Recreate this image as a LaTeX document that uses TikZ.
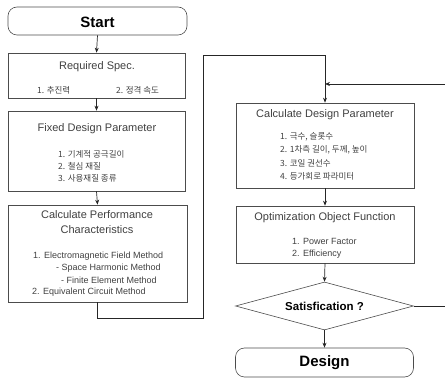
\documentclass[tikz,border=0pt]{standalone}
\usepackage{fontspec}
\setmainfont{Liberation Sans}
\newfontfamily\kor{Noto Sans CJK KR}
\usetikzlibrary{shapes.geometric,arrows.meta}
\tikzset{
  box/.style={draw=black!70,line width=0.6pt,minimum width=178pt,inner sep=0pt},
  term/.style={box,rounded corners=9pt},
  ttl/.style={font=\fontsize{11}{12}\selectfont,text=black!75,inner sep=0pt},
  itm/.style={font=\fontsize{9}{11}\selectfont,text=black!75,inner sep=0pt,anchor=west},
  kitm/.style={font=\fontsize{8.5}{11}\kor,text=black!75,inner sep=0pt,anchor=west},
  big/.style={font=\fontsize{15}{17}\selectfont\bfseries,inner sep=0pt},
  conn/.style={draw=black!85,line width=0.7pt},
  arr/.style={conn,-{Stealth[length=5pt,width=4pt]}}
}
\begin{document}
\begin{tikzpicture}[x=1pt,y=-1pt]
\useasboundingbox (0,0) rectangle (445,379);
% left column
\node[term,minimum width=179pt,minimum height=28pt] (start) at (97.5,21) {};
\node[big] (startt) at (97.5,22) {Start};
\node[box,minimum width=177pt,minimum height=45pt] (req) at (96.5,75.5) {};
\node[ttl] (reqt) at (97,67) {Required Spec.};
\node[kitm] (req1) at (37,90) {1. 추진력};
\node[kitm] (req2) at (116,90) {2. 정격 속도};
\node[box,minimum width=177pt,minimum height=80pt] (fix) at (96.5,151) {};
\node[ttl] (fixt) at (97,129) {Fixed Design Parameter};
\node[kitm] (fix1) at (58,154) {1. 기계적 공극길이};
\node[kitm] (fix2) at (58,166) {2. 철심 재질};
\node[kitm] (fix3) at (58,178) {3. 사용재질 종류};
\node[box,minimum width=179pt,minimum height=97pt] (perf) at (97.5,253.5) {};
\node[ttl] (perft1) at (97,215) {Calculate Performance};
\node[ttl] (perft2) at (97,230) {Characteristics};
\node[itm] (perf1) at (33,256) {1. Electromagnetic Field Method};
\node[itm] (perf2) at (56,268) {- Space Harmonic Method};
\node[itm] (perf3) at (61,280) {- Finite Element Method};
\node[itm] (perf4) at (32,292) {2. Equivalent Circuit Method};
% right column
\node[box,minimum height=85pt] (cdp) at (325,145.5) {};
\node[ttl] (cdpt) at (325,115) {Calculate Design Parameter};
\node[kitm] (cdp1) at (280,137) {1. 극수, 슬롯수};
\node[kitm] (cdp2) at (280,150) {2. 1차측 길이, 두께, 높이};
\node[kitm] (cdp3) at (280,163) {3. 코일 권선수};
\node[kitm] (cdp4) at (280,176) {4. 등가회로 파라미터};
\node[box,minimum height=57pt] (opt) at (325,234.5) {};
\node[ttl] (optt) at (325,218) {Optimization Object Function};
\node[itm] (opt1) at (292,241) {1. Power Factor};
\node[itm] (opt2) at (292,254) {2. Efficiency};
\node[diamond,draw=black!70,line width=0.6pt,minimum width=178pt,minimum height=48pt,aspect=3.7,inner sep=0pt] (sat) at (324.5,306) {};
\node[font=\fontsize{11.5}{13}\selectfont\bfseries,inner sep=0pt] (satt) at (324.5,306) {Satisfication ?};
\node[term,minimum height=29pt] (des) at (324.5,362.5) {};
\node[big] (dest) at (324.5,363) {Design};
% connectors
\draw[arr] (start.south) -- (req.north);
\draw[arr] (req.south) -- (fix.north);
\draw[arr] (fix.south) -- (perf.north);
\coordinate (p1) at (97.5,318);
\coordinate (p2) at (203,318);
\coordinate (p3) at (203,55);
\coordinate (p4) at (325,55);
\draw[arr] (perf.south) -- (p1) -- (p2) -- (p3) -- (p4) -- (cdp.north);
\draw[arr] (cdp.south) -- (opt.north);
\draw[arr] (opt.south) -- (sat.north);
\draw[arr] (sat.south) -- (des.north);
\coordinate (rb) at (449,306);
\coordinate (rt) at (449,84);
\coordinate (j) at (325,84);
\draw[arr] (sat.east) -- (rb) -- (rt) -- (j);
\end{tikzpicture}
\end{document}
